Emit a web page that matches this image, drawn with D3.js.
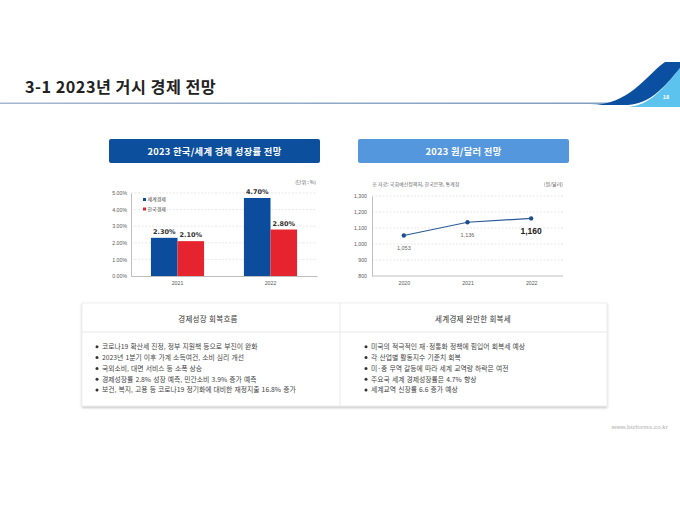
<!DOCTYPE html>
<html>
<head>
<meta charset="utf-8">
<script src="https://cdn.jsdelivr.net/npm/d3@7"></script>
<style>
  body { margin: 0; background: #fff; }
  svg { display: block; font-family: 'Noto Sans CJK KR', 'Noto Sans', sans-serif; }
</style>
</head>
<body>
<svg id="page" width="680" height="510"></svg>
<script>
// growth outlook (%)
const growthYears = ['2021', '2022']
const growthSeries = ['세계경제', '한국경제']
const worldGrowth = [2.3, 4.7]
const koreaGrowth = [2.1, 2.8]
const growthTicks = [0, 1, 2, 3, 4, 5]

// won / dollar outlook
const fxYears = ['2020', '2021', '2022']
const fxRate = [1053, 1136, 1160]
const fxTicks = [800, 900, 1000, 1100, 1200, 1300]

const leftTitle = '경제성장 회복흐름'
const leftItems = [
  '코로나19 확산세 진정, 정부 지원책 등으로 부진이 완화',
  '2023년 1분기 이후 가계 소득여건, 소비 심리 개선',
  '국외소비, 대면 서비스 등 소폭 상승',
  '경제성장률 2.8% 성장 예측, 민간소비 3.9% 증가 예측',
  '보건, 복지, 고용 등 코로나19 정기화에 대비한 재정지출 16.8% 증가'
]
const rightTitle = '세계경제 완만한 회복세'
const rightItems = [
  '미국의 적극적인 재·정통화 정책에 힘입어 회복세 예상',
  '각 산업별 활동지수 기준치 회복',
  '미·중 무역 갈등에 따라 세계 교역량 하락은 여전',
  '주요국 세계 경제성장률은 4.7% 향상',
  '세계교역 신장률 6.6 증가 예상'
]

const svg = d3.select('#page')
const blue = '#0b4c9c'
const red = '#e62430'

// ---- header ----
const defs = svg.append('defs')
const lg = defs.append('linearGradient').attr('id', 'rule')
lg.append('stop').attr('offset', '0%').attr('stop-color', '#a3b6cd')
lg.append('stop').attr('offset', '100%').attr('stop-color', '#7f9cc0')

svg.append('rect').attr('x', 0).attr('y', 102.5).attr('width', 630).attr('height', 1.5).attr('fill', 'url(#rule)')

svg.append('path')
  .attr('d', 'M628,107 C650,105 662,90 680,68 L680,107 Z')
  .attr('fill', '#5cc3ee')
svg.append('path')
  .attr('d', 'M590,105 C630,105 645,76 665,62 L680,62 L680,68 C662,90 650,103 628,105 Z')
  .attr('fill', '#0a4fa0')

svg.append('text').attr('x', 666).attr('y', 99).attr('fill', '#fff')
  .attr('font-size', 5.5).attr('font-weight', 'bold').attr('text-anchor', 'middle').text('18')

svg.append('text').attr('x', 25).attr('y', 93)
  .attr('font-size', 16.2).attr('font-weight', 'bold').attr('fill', '#222')
  .attr('letter-spacing', 0.5)
  .text('3-1 2023년 거시 경제 전망')

// ---- section buttons ----
const buttons = [
  { x: 109, label: '2023 한국/세계 경제 성장률 전망', fill: '#0b4f9d' },
  { x: 358, label: '2023 원/달러 전망', fill: '#5597dd' }
]
buttons.forEach(b => {
  svg.append('rect').attr('x', b.x).attr('y', 139).attr('width', 211).attr('height', 24)
    .attr('rx', 2).attr('fill', b.fill)
  svg.append('text').attr('x', b.x + 105.5).attr('y', 154.5).attr('text-anchor', 'middle')
    .attr('fill', '#fff').attr('font-size', 9.3).attr('font-weight', 'bold')
    .attr('letter-spacing', 0.3).text(b.label)
})

// ---- bar chart ----
const bar = svg.append('g').attr('class', 'bar-chart')
const bx0 = d3.scaleBand().domain(growthYears).range([131, 317]).paddingInner(0).paddingOuter(0)
const bx1 = d3.scaleBand().domain(growthSeries).range([0, bx0.bandwidth()]).paddingInner(0).paddingOuter(0.75)
const by = d3.scaleLinear().domain([0, 5]).range([276, 193])

bar.append('g')
  .attr('transform', 'translate(131,0)')
  .call(d3.axisLeft(by).tickValues(growthTicks).tickFormat(d => d3.format('.2f')(d) + '%').tickSize(0).tickPadding(4))
  .call(g => g.select('.domain').attr('stroke', '#bfbfbf'))
  .call(g => g.selectAll('text').attr('font-size', 5.2).attr('fill', '#595959').attr('font-family', 'Liberation Sans, sans-serif'))

bar.append('g').selectAll('line').data(growthTicks.slice(1)).join('line')
  .attr('x1', 131).attr('x2', 317).attr('y1', d => by(d)).attr('y2', d => by(d))
  .attr('stroke', '#d9d9d9').attr('stroke-width', 0.6).attr('stroke-dasharray', '2,1.5')

bar.append('g')
  .attr('transform', 'translate(0,276)')
  .call(d3.axisBottom(bx0).tickSize(0).tickPadding(5))
  .call(g => g.select('.domain').attr('stroke', '#bfbfbf'))
  .call(g => g.selectAll('text').attr('font-size', 5.2).attr('fill', '#595959').attr('font-family', 'Liberation Sans, sans-serif'))

const barData = growthYears.map((y, i) => ({ year: y, values: [
  { key: growthSeries[0], v: worldGrowth[i], c: blue },
  { key: growthSeries[1], v: koreaGrowth[i], c: red }
] }))

const groups = bar.append('g').selectAll('g').data(barData).join('g')
  .attr('transform', d => `translate(${bx0(d.year)},0)`)
groups.selectAll('rect').data(d => d.values).join('rect')
  .attr('x', d => bx1(d.key)).attr('width', bx1.bandwidth())
  .attr('y', d => by(d.v)).attr('height', d => by(0) - by(d.v))
  .attr('fill', d => d.c)
groups.selectAll('text').data(d => d.values).join('text')
  .attr('x', d => bx1(d.key) + bx1.bandwidth() / 2).attr('y', d => by(d.v) - 4)
  .attr('text-anchor', 'middle').attr('font-size', 6.5).attr('font-weight', 'bold').attr('fill', '#333')
  .attr('font-family', 'DejaVu Sans, sans-serif')
  .text(d => d3.format('.2f')(d.v) + '%')

const legend = bar.append('g').selectAll('g').data([blue, red]).join('g')
  .attr('transform', (d, i) => `translate(143,${201 + i * 9.5})`)
legend.append('rect').attr('x', 0).attr('y', -3).attr('width', 3).attr('height', 3).attr('fill', d => d)
legend.append('text').attr('x', 4.5).attr('y', 0).attr('font-size', 5).attr('fill', '#404040')
  .text((d, i) => growthSeries[i])

bar.append('text').attr('x', 316).attr('y', 184).attr('text-anchor', 'end')
  .attr('font-size', 5).attr('fill', '#595959').text('(단위 : %)')

// ---- line chart ----
const line = svg.append('g').attr('class', 'line-chart')
const lx = d3.scalePoint().domain(fxYears).range([372, 563]).padding(0.5)
const ly = d3.scaleLinear().domain([800, 1300]).range([276, 196])

line.append('g').selectAll('line').data(fxTicks.slice(1)).join('line')
  .attr('x1', 372).attr('x2', 563).attr('y1', d => ly(d)).attr('y2', d => ly(d))
  .attr('stroke', '#d9d9d9').attr('stroke-width', 0.6).attr('stroke-dasharray', '2,1.5')

line.append('g')
  .attr('transform', 'translate(372,0)')
  .call(d3.axisLeft(ly).tickValues(fxTicks).tickFormat(d3.format(',')).tickSize(0).tickPadding(5))
  .call(g => g.select('.domain').attr('stroke', '#bfbfbf'))
  .call(g => g.selectAll('text').attr('font-size', 5.2).attr('fill', '#595959').attr('font-family', 'Liberation Sans, sans-serif'))

line.append('g')
  .attr('transform', 'translate(0,276)')
  .call(d3.axisBottom(lx).tickSize(0).tickPadding(5))
  .call(g => g.select('.domain').attr('stroke', '#bfbfbf').attr('d', 'M372,0H563'))
  .call(g => g.selectAll('text').attr('font-size', 5.2).attr('fill', '#595959').attr('font-family', 'Liberation Sans, sans-serif'))

const fxData = fxYears.map((y, i) => ({ year: y, v: fxRate[i] }))
line.append('path').datum(fxData)
  .attr('d', d3.line().x(d => lx(d.year)).y(d => ly(d.v)))
  .attr('fill', 'none').attr('stroke', '#2a5a96').attr('stroke-width', 1.2)
line.append('g').selectAll('circle').data(fxData).join('circle')
  .attr('cx', d => lx(d.year)).attr('cy', d => ly(d.v)).attr('r', 2.2).attr('fill', '#1d4e8f')

const last = fxData.length - 1
line.append('g').selectAll('text').data(fxData).join('text')
  .attr('x', d => lx(d.year))
  .attr('y', (d, i) => i === last ? ly(d.v) + 15.5 : ly(d.v) + 14.5)
  .attr('text-anchor', 'middle')
  .attr('font-size', (d, i) => i === last ? 8.5 : 5.5)
  .attr('font-weight', (d, i) => i === last ? 'bold' : 'normal')
  .attr('fill', (d, i) => i === last ? '#222' : '#666')
  .attr('font-family', 'Liberation Sans, sans-serif')
  .text(d => d3.format(',')(d.v))

line.append('text').attr('x', 372).attr('y', 186).attr('font-size', 5)
  .attr('fill', '#666').text('※ 자료: 국회예산정책처, 한국은행, 통계청')
line.append('text').attr('x', 563).attr('y', 186).attr('text-anchor', 'end')
  .attr('font-size', 5).attr('fill', '#595959').text('(원/달러)')

// ---- summary boxes ----
const shadow = defs.append('filter').attr('id', 'shadow').attr('x', '-5%').attr('y', '-5%').attr('width', '110%').attr('height', '120%')
shadow.append('feDropShadow').attr('dx', 0).attr('dy', 1.5).attr('stdDeviation', 1.2).attr('flood-color', '#000').attr('flood-opacity', 0.25)

const box = svg.append('g').attr('class', 'summary')
box.append('rect').attr('x', 82).attr('y', 303).attr('width', 525).attr('height', 103)
  .attr('fill', '#fff').attr('stroke', '#e3e3e3').attr('stroke-width', 0.6).attr('filter', 'url(#shadow)')
box.append('line').attr('x1', 82).attr('x2', 607).attr('y1', 332).attr('y2', 332)
  .attr('stroke', '#e0e0e0').attr('stroke-width', 0.7)
box.append('line').attr('x1', 340).attr('x2', 340).attr('y1', 303).attr('y2', 406)
  .attr('stroke', '#e0e0e0').attr('stroke-width', 0.7)

const columns = [
  { cx: 208, bx: 97, title: leftTitle, items: leftItems },
  { cx: 473, bx: 366, title: rightTitle, items: rightItems }
]
columns.forEach(col => {
  box.append('text').attr('x', col.cx).attr('y', 322).attr('text-anchor', 'middle')
    .attr('font-size', 7.5).attr('fill', '#333').attr('letter-spacing', 0.3).text(col.title)
  const rows = box.append('g').selectAll('g').data(col.items).join('g')
    .attr('transform', (d, i) => `translate(${col.bx},${347 + i * 10.8})`)
  rows.append('circle').attr('cx', 0).attr('cy', -0.2).attr('r', 1.5).attr('fill', '#333')
  rows.append('text').attr('x', 5).attr('y', 2.2).attr('font-size', 6.8).attr('fill', '#444')
    .attr('word-spacing', 0.6).text(d => d)
})

svg.append('text').attr('x', 668).attr('y', 429).attr('text-anchor', 'end')
  .attr('font-size', 6).attr('font-weight', 'bold').attr('fill', '#c4c4c4')
  .attr('font-family', 'Liberation Sans, sans-serif').text('www.bizforms.co.kr')
</script>
</body>
</html>
